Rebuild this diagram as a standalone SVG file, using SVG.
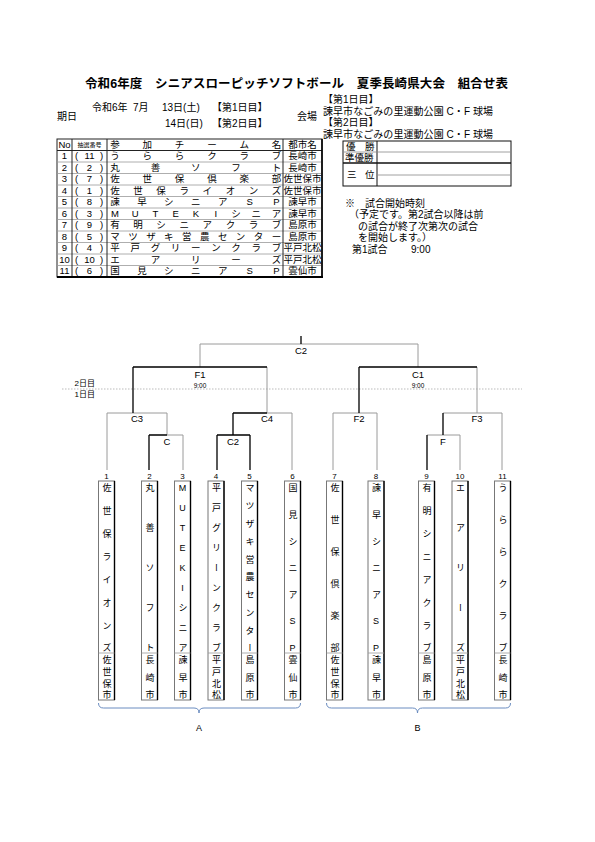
<svg xmlns="http://www.w3.org/2000/svg" width="595" height="842" viewBox="0 0 595 842">
<style>
text{font-family:"Liberation Sans","Noto Sans CJK JP",sans-serif;fill:#000}
.h{font-size:10px}
.t{font-size:9.5px}
.m{text-anchor:middle}
.s{font-size:6px}
.lb{font-size:9.5px;text-anchor:middle}
.tm{font-size:6.5px;text-anchor:middle}
.num{font-size:8px;text-anchor:middle}
.v{font-size:9px;writing-mode:vertical-rl;text-orientation:upright;text-anchor:middle}
.g{stroke:#9a9a9a;stroke-width:1;fill:none}
.k{stroke:#000;stroke-width:1.3;fill:none}
.tl{stroke:#999;stroke-width:0.8}
.tk{stroke:#222;stroke-width:1}
.bx{fill:#fff;stroke:#777;stroke-width:1}
.br{stroke:#000;stroke-width:1.4}
.brace{fill:none;stroke:#6a8cc0;stroke-width:1}
</style>
<rect width="595" height="842" fill="#fff"/>

<g id="title">
<text x="85" y="87.5" font-size="12.5" font-weight="bold" textLength="423" lengthAdjust="spacing">令和6年度　シニアスローピッチソフトボール　夏季長崎県大会　組合せ表</text>
</g>

<g id="header">
<text class="h" x="57" y="120">期日</text>
<text class="h" y="110.5"><tspan x="92">令和6年</tspan><tspan x="133">7月</tspan><tspan x="162">13日(土)</tspan><tspan x="212">【第1日目】</tspan></text>
<text class="h" y="126.5"><tspan x="165">14日(日)</tspan><tspan x="212">【第2日目】</tspan></text>
<text class="h" x="297" y="120">会場</text>
<text class="h" x="323" y="103">【第1日目】</text>
<text class="h" x="323" y="114.5" textLength="170" lengthAdjust="spacing">諫早市なごみの里運動公園 C・F 球場</text>
<text class="h" x="323" y="126">【第2日目】</text>
<text class="h" x="323" y="137.5" textLength="170" lengthAdjust="spacing">諫早市なごみの里運動公園 C・F 球場</text>
</g>

<g id="team-table">
<rect x="57" y="139" width="265" height="138" fill="#fff" stroke="#222" stroke-width="1"/>
<g class="tl">
<line x1="57" y1="162" x2="322" y2="162"/>
<line x1="57" y1="173.5" x2="322" y2="173.5"/>
<line x1="57" y1="185" x2="322" y2="185"/>
<line x1="57" y1="196.5" x2="322" y2="196.5"/>
<line x1="57" y1="208" x2="322" y2="208"/>
<line x1="57" y1="219.5" x2="322" y2="219.5"/>
<line x1="57" y1="231" x2="322" y2="231"/>
<line x1="57" y1="242.5" x2="322" y2="242.5"/>
<line x1="57" y1="254" x2="322" y2="254"/>
<line x1="57" y1="265.5" x2="322" y2="265.5"/>
</g>
<line class="tk" x1="57" y1="150.5" x2="322" y2="150.5"/>
<g class="tk">
<line x1="72" y1="139" x2="72" y2="277"/>
<line x1="107" y1="139" x2="107" y2="277"/>
<line x1="283" y1="139" x2="283" y2="277"/>
</g>
<line x1="57" y1="277" x2="323" y2="277" stroke="#000" stroke-width="2"/>
<line x1="322" y1="139" x2="322" y2="277" stroke="#000" stroke-width="1.6"/>
<text class="t m" x="64.5" y="147.5">No</text>
<text class="s m" x="89.5" y="147">抽選番号</text>
<text class="t m" x="0" y="147.5"><tspan x="115 147.3 179.6 211.9 244.2 276.5">参加チーム名</tspan></text>
<text class="t m" x="302.5" y="147.5">都市名</text>

<g class="t">
<text y="159"><tspan class="m" x="64.5">1</tspan><tspan x="75">(</tspan><tspan class="m" x="89.5">11</tspan><tspan x="100">)</tspan></text>
<text class="m" y="159" x="115 147.3 179.6 211.9 244.2 276.5">うららクラブ</text>
<text class="m" x="302.5" y="159">長崎市</text>

<text y="170.5"><tspan class="m" x="64.5">2</tspan><tspan x="75">(</tspan><tspan class="m" x="89.5">2</tspan><tspan x="100">)</tspan></text>
<text class="m" y="170.5" x="115 155.4 195.8 236.1 276.5">丸善ソフト</text>
<text class="m" x="302.5" y="170.5">長崎市</text>

<text y="182"><tspan class="m" x="64.5">3</tspan><tspan x="75">(</tspan><tspan class="m" x="89.5">7</tspan><tspan x="100">)</tspan></text>
<text class="m" y="182" x="115 147.3 179.6 211.9 244.2 276.5">佐世保倶楽部</text>
<text class="m" x="302.5" y="182">佐世保市</text>

<text y="193.5"><tspan class="m" x="64.5">4</tspan><tspan x="75">(</tspan><tspan class="m" x="89.5">1</tspan><tspan x="100">)</tspan></text>
<text class="m" y="193.5" x="115 138.1 161.1 184.2 207.3 230.4 253.4 276.5">佐世保ライオンズ</text>
<text class="m" x="302.5" y="193.5">佐世保市</text>

<text y="205"><tspan class="m" x="64.5">5</tspan><tspan x="75">(</tspan><tspan class="m" x="89.5">8</tspan><tspan x="100">)</tspan></text>
<text class="m" y="205" x="115 141.9 168.8 195.8 222.7 249.6 276.5">諫早シニアSP</text>
<text class="m" x="302.5" y="205">諫早市</text>

<text y="216.5"><tspan class="m" x="64.5">6</tspan><tspan x="75">(</tspan><tspan class="m" x="89.5">3</tspan><tspan x="100">)</tspan></text>
<text class="m" y="216.5" x="115 135.2 155.4 175.6 195.8 215.9 236.1 256.3 276.5">MUTEKIシニア</text>
<text class="m" x="302.5" y="216.5">諫早市</text>

<text y="228"><tspan class="m" x="64.5">7</tspan><tspan x="75">(</tspan><tspan class="m" x="89.5">9</tspan><tspan x="100">)</tspan></text>
<text class="m" y="228" x="115 138.1 161.1 184.2 207.3 230.4 253.4 276.5">有明シニアクラブ</text>
<text class="m" x="302.5" y="228">島原市</text>

<text y="239.5"><tspan class="m" x="64.5">8</tspan><tspan x="75">(</tspan><tspan class="m" x="89.5">5</tspan><tspan x="100">)</tspan></text>
<text class="m" y="239.5" x="115 132.9 150.9 168.8 186.8 204.7 222.7 240.6 258.6 276.5">マツザキ営農センター</text>
<text class="m" x="302.5" y="239.5">島原市</text>

<text y="251"><tspan class="m" x="64.5">9</tspan><tspan x="75">(</tspan><tspan class="m" x="89.5">4</tspan><tspan x="100">)</tspan></text>
<text class="m" y="251" x="115 135.2 155.4 175.6 195.8 215.9 236.1 256.3 276.5">平戸グリーンクラブ</text>
<text class="m" x="302.5" y="251">平戸北松</text>

<text y="262.5"><tspan class="m" x="64.5">10</tspan><tspan x="75">(</tspan><tspan class="m" x="89.5">10</tspan><tspan x="100">)</tspan></text>
<text class="m" y="262.5" x="115 155.4 195.8 236.1 276.5">エアリーズ</text>
<text class="m" x="302.5" y="262.5">平戸北松</text>

<text y="274"><tspan class="m" x="64.5">11</tspan><tspan x="75">(</tspan><tspan class="m" x="89.5">6</tspan><tspan x="100">)</tspan></text>
<text class="m" y="274" x="115 141.9 168.8 195.8 222.7 249.6 276.5">国見シニアSP</text>
<text class="m" x="302.5" y="274">雲仙市</text>
</g>
</g>

<g id="result-table">
<rect x="343" y="141" width="168" height="45" fill="#fff" stroke="#111" stroke-width="1"/>
<line x1="377" y1="141" x2="377" y2="186" stroke="#111" stroke-width="1"/>
<line x1="343" y1="152" x2="511" y2="152" stroke="#888" stroke-width="0.8"/>
<line x1="343" y1="163" x2="511" y2="163" stroke="#111" stroke-width="1.4"/>
<line x1="377" y1="175" x2="511" y2="175" stroke="#888" stroke-width="0.8"/>
<text class="t" x="346" y="150"><tspan>優</tspan><tspan x="365">勝</tspan></text>
<text class="t" x="345" y="161">準優勝</text>
<text class="t" x="347" y="177.5"><tspan>三</tspan><tspan x="365">位</tspan></text>
</g>

<g id="notes">
<text class="h" x="345" y="206.5">※　試合開始時刻</text>
<text class="h" x="349" y="218">（予定です。第2試合以降は前</text>
<text class="h" x="358" y="229.5">の試合が終了次第次の試合</text>
<text class="h" x="358" y="241">を開始します。）</text>
<text class="h" y="252.5"><tspan x="352">第1試合</tspan><tspan x="411">9:00</tspan></text>
</g>

<g id="day-divider">
<line x1="62" y1="389" x2="522" y2="389" stroke="#bbb" stroke-width="1" stroke-dasharray="1.5,1.5"/>
<text x="95" y="385.5" font-size="8" text-anchor="end">2日目</text>
<text x="95" y="397" font-size="8" text-anchor="end">1日目</text>
</g>

<g id="connectors">
<path class="g" d="M200 344H418M200 344V367M418 344V367M267 367V413M107 413H167M107 413V470M167 413V435M167 435H183M183 435V470M267 413H292M292 413V470M477 367V413M333 413H377M333 413V470M377 413V470M443 413H502M502 413V470M427 435H460M460 435V470"/>
<path class="k" d="M301 336V344M133 367H267M133 367V413M149 435H167M149 435V470M233 413H267M233 413V435M217 435H250M217 435V470M250 435V470M359 367H477M359 367V413M443 413V435M427 435V470"/>
</g>

<g id="match-labels">
<text class="lb" x="301" y="354">C2</text>
<text class="lb" x="200" y="378">F1</text>
<text class="tm" x="200" y="387.5">9:00</text>
<text class="lb" x="418" y="378">C1</text>
<text class="tm" x="418" y="387.5">9:00</text>
<text class="lb" x="137" y="421.5">C3</text>
<text class="lb" x="267" y="421.5">C4</text>
<text class="lb" x="359" y="421.5">F2</text>
<text class="lb" x="477" y="421.5">F3</text>
<text class="lb" x="167" y="444.5">C</text>
<text class="lb" x="233" y="444.5">C2</text>
<text class="lb" x="443" y="444.5">F</text>
</g>

<g id="team-1">
<text class="num" x="106.5" y="478.5">1</text>
<rect class="bx" x="98.5" y="481" width="16" height="219"/><line class="br" x1="114.5" y1="481" x2="114.5" y2="700"/><line class="tl" x1="98.5" y1="653" x2="114.5" y2="653"/>
<text class="v" x="106.5" y="488 510.9 533.7 556.6 579.4 602.3 625.1 648">佐世保ライオンズ</text>
<text class="v" x="106.5" y="660 671.7 683.3 695">佐世保市</text>
</g>
<g id="team-2">
<text class="num" x="149.5" y="478.5">2</text>
<rect class="bx" x="141.5" y="481" width="16" height="219"/><line class="br" x1="157.5" y1="481" x2="157.5" y2="700"/><line class="tl" x1="141.5" y1="653" x2="157.5" y2="653"/>
<text class="v" x="149.5" y="488 528 568 608 648">丸善ソフト</text>
<text class="v" x="149.5" y="660 677.5 695">長崎市</text>
</g>
<g id="team-3">
<text class="num" x="182.5" y="478.5">3</text>
<rect class="bx" x="174.5" y="481" width="16" height="219"/><line class="br" x1="190.5" y1="481" x2="190.5" y2="700"/><line class="tl" x1="174.5" y1="653" x2="190.5" y2="653"/>
<text class="v" x="182.5" y="488 508 528 548 568 588 608 628 648">MUTEKIシニア</text>
<text class="v" x="182.5" y="660 677.5 695">諫早市</text>
</g>
<g id="team-4">
<text class="num" x="216" y="478.5">4</text>
<rect class="bx" x="208" y="481" width="16" height="219"/><line class="br" x1="224" y1="481" x2="224" y2="700"/><line class="tl" x1="208" y1="653" x2="224" y2="653"/>
<text class="v" x="216" y="488 508 528 548 568 588 608 628 648">平戸グリーンクラブ</text>
<text class="v" x="216" y="660 671.7 683.3 695">平戸北松</text>
</g>
<g id="team-5">
<text class="num" x="249.5" y="478.5">5</text>
<rect class="bx" x="241.5" y="481" width="16" height="219"/><line class="br" x1="257.5" y1="481" x2="257.5" y2="700"/><line class="tl" x1="241.5" y1="653" x2="257.5" y2="653"/>
<text class="v" x="249.5" y="488 505.8 523.6 541.3 559.1 576.9 594.7 612.4 630.2 648">マツザキ営農センター</text>
<text class="v" x="249.5" y="660 677.5 695">島原市</text>
</g>
<g id="team-6">
<text class="num" x="292.5" y="478.5">6</text>
<rect class="bx" x="284.5" y="481" width="16" height="219"/><line class="br" x1="300.5" y1="481" x2="300.5" y2="700"/><line class="tl" x1="284.5" y1="653" x2="300.5" y2="653"/>
<text class="v" x="292.5" y="488 514.7 541.3 568 594.7 621.3 648">国見シニアSP</text>
<text class="v" x="292.5" y="660 677.5 695">雲仙市</text>
</g>
<g id="team-7">
<text class="num" x="334.5" y="478.5">7</text>
<rect class="bx" x="326.5" y="481" width="16" height="219"/><line class="br" x1="342.5" y1="481" x2="342.5" y2="700"/><line class="tl" x1="326.5" y1="653" x2="342.5" y2="653"/>
<text class="v" x="334.5" y="488 520 552 584 616 648">佐世保倶楽部</text>
<text class="v" x="334.5" y="660 671.7 683.3 695">佐世保市</text>
</g>
<g id="team-8">
<text class="num" x="376" y="478.5">8</text>
<rect class="bx" x="368" y="481" width="16" height="219"/><line class="br" x1="384" y1="481" x2="384" y2="700"/><line class="tl" x1="368" y1="653" x2="384" y2="653"/>
<text class="v" x="376" y="488 514.7 541.3 568 594.7 621.3 648">諫早シニアSP</text>
<text class="v" x="376" y="660 677.5 695">諫早市</text>
</g>
<g id="team-9">
<text class="num" x="426.5" y="478.5">9</text>
<rect class="bx" x="418.5" y="481" width="16" height="219"/><line class="br" x1="434.5" y1="481" x2="434.5" y2="700"/><line class="tl" x1="418.5" y1="653" x2="434.5" y2="653"/>
<text class="v" x="426.5" y="488 510.9 533.7 556.6 579.4 602.3 625.1 648">有明シニアクラブ</text>
<text class="v" x="426.5" y="660 677.5 695">島原市</text>
</g>
<g id="team-10">
<text class="num" x="460" y="478.5">10</text>
<rect class="bx" x="452" y="481" width="16" height="219"/><line class="br" x1="468" y1="481" x2="468" y2="700"/><line class="tl" x1="452" y1="653" x2="468" y2="653"/>
<text class="v" x="460" y="488 528 568 608 648">エアリーズ</text>
<text class="v" x="460" y="660 671.7 683.3 695">平戸北松</text>
</g>
<g id="team-11">
<text class="num" x="502.5" y="478.5">11</text>
<rect class="bx" x="494.5" y="481" width="16" height="219"/><line class="br" x1="510.5" y1="481" x2="510.5" y2="700"/><line class="tl" x1="494.5" y1="653" x2="510.5" y2="653"/>
<text class="v" x="502.5" y="488 520 552 584 616 648">うららクラブ</text>
<text class="v" x="502.5" y="660 677.5 695">長崎市</text>
</g>

<g id="group-A">
<path class="brace" d="M98.5 703Q98.5 708 103.5 708H194Q199 708 199 713Q199 708 204 708H295.5Q300.5 708 300.5 703"/>
<text x="199" y="731" font-size="9" text-anchor="middle">A</text>
</g>
<g id="group-B">
<path class="brace" d="M326.5 703Q326.5 708 331.5 708H412.5Q417.5 708 417.5 713Q417.5 708 422.5 708H505.5Q510.5 708 510.5 703"/>
<text x="417.5" y="731" font-size="9" text-anchor="middle">B</text>
</g>
</svg>
